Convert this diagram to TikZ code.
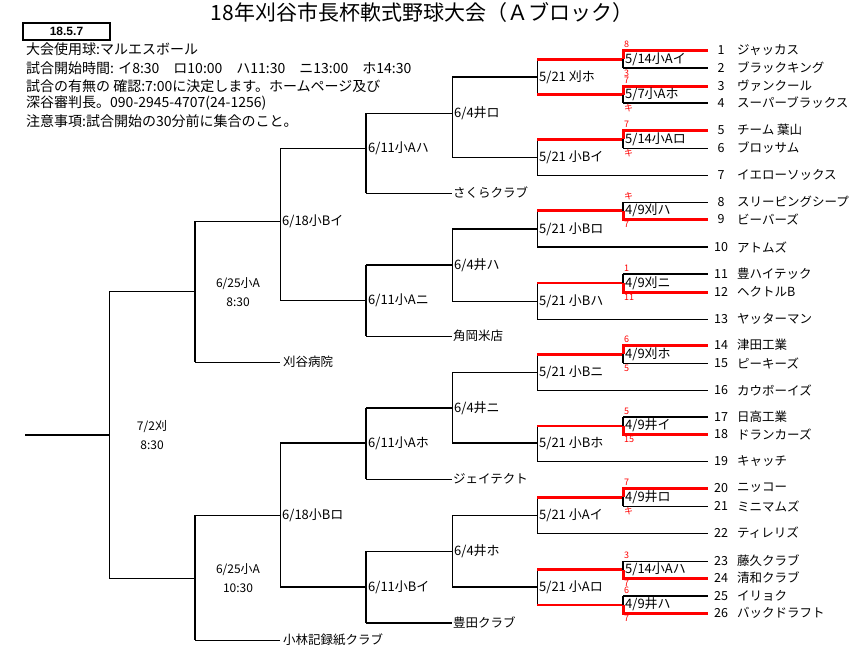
\documentclass[tikz,border=0pt]{standalone}
\usepackage{fontspec}
\setmainfont{Noto Sans CJK JP}
\newfontfamily\datefont{Liberation Sans}
\usetikzlibrary{calc}

\tikzset{
  ln/.style={line width=1pt},
  thkln/.style={line width=2pt},
  redthk/.style={red, line width=3pt},
  lbl/.style={anchor=west, inner sep=0pt, xshift=2pt, font=\fontsize{13}{13}\selectfont},
  team/.style={anchor=west, inner sep=0pt, font=\fontsize{12.5}{13}\selectfont},
  num/.style={inner sep=0pt, font=\fontsize{12.5}{13}\selectfont},
  score/.style={anchor=west, inner sep=0pt, text=red, font=\fontsize{9}{9}\selectfont},
  info/.style={anchor=west, inner sep=0pt, font=\fontsize{14}{14}\selectfont},
  time/.style={align=center, inner sep=0pt, font=\fontsize{12}{19}\selectfont},
}

\begin{document}
\begin{tikzpicture}[x=1pt, y=-1pt]

\useasboundingbox (0,0) rectangle (858,651);

% Title and header
\node[font=\fontsize{21}{21}\selectfont] (title) at (422,13) {18年刈谷市長杯軟式野球大会（Ａブロック）};
\node[draw, line width=2pt, minimum width=87pt, minimum height=17pt, inner sep=0pt,
      font=\datefont\bfseries\fontsize{12}{12}\selectfont] (date) at (66.5,31.5) {18.5.7};
\node[info] (i1) at (26,49) {大会使用球:マルエスボール};
\node[info] (i2) at (26,68) {試合開始時間: イ8:30　ロ10:00　ハ11:30　ニ13:00　ホ14:30};
\node[info] (i3) at (26,86) {試合の有無の 確認:7:00に決定します。ホームページ及び};
\node[info] (i4) at (26,103) {深谷審判長。090-2945-4707(24-1256)};
\node[info] (i5) at (26,121) {注意事項:試合開始の30分前に集合のこと。};

% Teams
\foreach \i/\y/\nm in {1/50/ジャッカス, 2/68/ブラックキング, 3/86/ヴァンクール,
    4/103/スーパーブラックス, 5/130/チーム 葉山, 6/148/ブロッサム, 7/175/イエローソックス,
    8/202/スリーピングシープ, 9/219/ビーバーズ, 10/247/アトムズ, 11/274/豊ハイテック,
    12/292/ヘクトルB, 13/319/ヤッターマン, 14/345/津田工業, 15/363/ピーキーズ,
    16/390/カウボーイズ, 17/417/日高工業, 18/434/ドランカーズ, 19/461/キャッチ,
    20/488/ニッコー, 21/506/ミニマムズ, 22/533/ティレリズ, 23/561/藤久クラブ,
    24/578/清和クラブ, 25/596/イリョク, 26/613/バックドラフト}
{
  \coordinate (t\i) at (708,\y);
  \node[num] (k\i) at (721,\y) {\i};
  \node[team] (n\i) at (737,\y) {\nm};
}

% Junctions
\coordinate (z) at (25,435);
\coordinate (g) at (109,435);
\coordinate (f1) at (195,291);
\coordinate (f2) at (195,578);
\coordinate (e1) at (280,221);
\coordinate (e2) at (280,515);
\coordinate (s1) at (366,148);
\coordinate (s2) at (366,300);
\coordinate (s3) at (366,443);
\coordinate (s4) at (366,587);
\coordinate (p1) at (452,113);
\coordinate (p2) at (452,265);
\coordinate (p3) at (452,408);
\coordinate (p4) at (452,551);
\foreach \k/\y in {1/77, 2/157, 3/229, 4/301, 5/372, 6/443, 7/515, 8/587}
  \coordinate (q\k) at (537,\y);
\foreach \a/\b in {1/2, 3/4, 5/6, 8/9, 11/12, 14/15, 17/18, 20/21, 23/24, 25/26}
  \coordinate (m\a) at ($(t\a)!0.5!(t\b)+(-85,0)$);

% Byes
\coordinate (b1) at (452,193);
\coordinate (b2) at (452,336);
\coordinate (b3) at (452,479);
\coordinate (b4) at (452,623);
\coordinate (b5) at (280,362);
\coordinate (b6) at (280,640);
\node[team, xshift=1pt] (bn1) at (b1) {さくらクラブ};
\node[team, xshift=1pt] (bn2) at (b2) {角岡米店};
\node[team, xshift=1pt] (bn3) at (b3) {ジェイテクト};
\node[team, xshift=1pt] (bn4) at (b4) {豊田クラブ};
\node[team, xshift=3pt] (bn5) at (b5) {刈谷病院};
\node[team, xshift=3pt] (bn6) at (b6) {小林記録紙クラブ};

% Final down to 6/4
\draw[thkln] (z) -- (g);
\foreach \p/\c/\d/\wv/\wc/\wd in {g/f1/f2/1/1/1, f1/e1/b5/2/1/1, f2/e2/b6/2/1/1,
    e1/s1/s2/1/1/1, e2/s3/s4/1/2/2, s1/p1/b1/2/1/1, s2/p2/b2/2/2/1, s3/p3/b3/2/2/1,
    s4/p4/b4/2/1/2, p1/q1/q2/1/2/1, p2/q3/q4/1/2/1, p3/q5/q6/1/1/2, p4/q7/q8/1/1/2}
{
  \draw[line width=\wv pt] (\p |- \c) -- (\p |- \d);
  \draw[line width=\wc pt] (\p |- \c) -- (\c);
  \draw[line width=\wd pt] (\p |- \d) -- (\d);
}

% 5/21 round
\foreach \p/\c/\d/\cc/\wc/\cd/\wd in {q1/m1/m3/red/3/red/3, q2/m5/t7/red/3/black/1,
    q3/m8/t10/red/3/black/2, q4/m11/t13/red/2/black/1, q5/m14/t16/red/3/black/1,
    q6/m17/t19/red/2/black/1, q7/m20/t22/red/3/black/1, q8/m23/m25/red/3/red/2}
{
  \draw[ln] (\p |- \c) -- (\p |- \d);
  \draw[draw=\cc, line width=\wc pt] (\p |- \c) -- (\c);
  \draw[draw=\cd, line width=\wd pt] (\p |- \d) -- (\d);
}

% First round with scores
\foreach \lab/\a/\b/\w/\l/\lw/\sa/\sb in {{5/14小Aイ}/1/2/1/2/2/8/3, {5/7小Aホ}/3/4/3/4/2/7/キ,
    {5/14小Aロ}/5/6/5/6/1/7/キ, {4/9刈ハ}/8/9/9/8/1/キ/7, {4/9刈ニ}/11/12/12/11/2/1/11,
    {4/9刈ホ}/14/15/14/15/1/6/5, {4/9井イ}/17/18/18/17/2/5/15, {4/9井ロ}/20/21/20/21/1/7/キ,
    {5/14小Aハ}/23/24/24/23/1/3/7, {4/9井ハ}/25/26/26/25/2/6/7}
{
  \draw[redthk] (m\a) -- (m\a |- t\w) -- (t\w);
  \draw[thkln] (m\a) -- (m\a |- t\l);
  \draw[line width=\lw pt] (m\a |- t\l) -- (t\l);
  \node[lbl] (r\a) at (m\a) {\lab};
  \node[score] (sa\a) at ($(m\a |- t\a)+(1,-5.5)$) {\sa};
  \node[score] (sb\a) at ($(m\a |- t\b)+(1,5)$) {\sb};
}

% Match labels
\node[lbl] (lq1) at (q1) {5/21 刈ホ};
\node[lbl] (lq2) at (q2) {5/21 小Bイ};
\node[lbl] (lq3) at (q3) {5/21 小Bロ};
\node[lbl] (lq4) at (q4) {5/21 小Bハ};
\node[lbl] (lq5) at (q5) {5/21 小Bニ};
\node[lbl] (lq6) at (q6) {5/21 小Bホ};
\node[lbl] (lq7) at (q7) {5/21 小Aイ};
\node[lbl] (lq8) at (q8) {5/21 小Aロ};
\node[lbl] (lp1) at (p1) {6/4井ロ};
\node[lbl] (lp2) at (p2) {6/4井ハ};
\node[lbl] (lp3) at (p3) {6/4井ニ};
\node[lbl] (lp4) at (p4) {6/4井ホ};
\node[lbl] (ls1) at (s1) {6/11小Aハ};
\node[lbl] (ls2) at (s2) {6/11小Aニ};
\node[lbl] (ls3) at (s3) {6/11小Aホ};
\node[lbl] (ls4) at (s4) {6/11小Bイ};
\node[lbl] (le1) at (e1) {6/18小Bイ};
\node[lbl] (le2) at (e2) {6/18小Bロ};
\node[time] (lf1) at (238,292) {6/25小A\\8:30};
\node[time] (lf2) at (238,578) {6/25小A\\10:30};
\node[time] (lg) at (152,435.5) {7/2刈\\8:30};

\end{tikzpicture}
\end{document}
